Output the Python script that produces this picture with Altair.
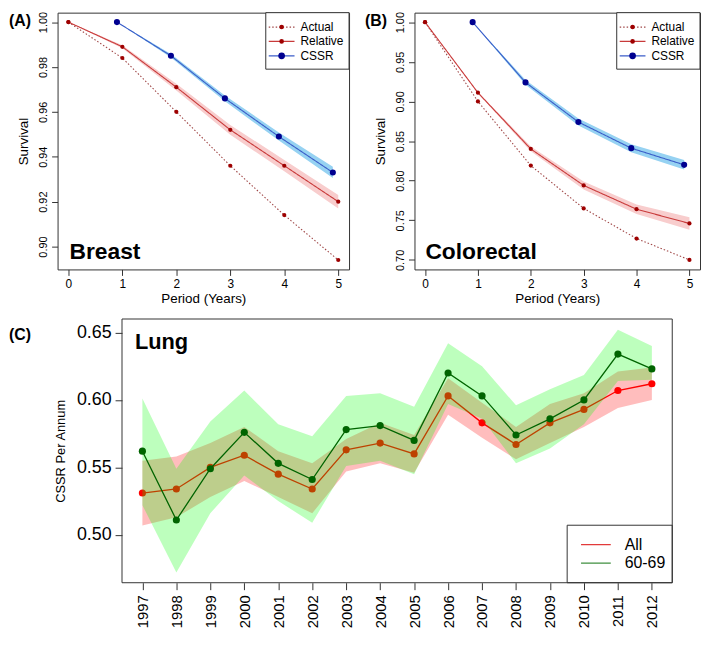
import altair as alt
import pandas as pd

FONT = "Liberation Sans"

# ---------------- data ----------------
periods = [0, 1, 2, 3, 4, 5]
cssr_periods = [0.9, 1.9, 2.9, 3.9, 4.9]
series_names = ["Actual", "Relative", "CSSR"]

breast_actual = [1.0, 0.984, 0.960, 0.936, 0.914, 0.894]
breast_relative = [1.0, 0.989, 0.971, 0.952, 0.936, 0.920]
breast_relative_lo = [1.0, 0.9883, 0.9695, 0.9498, 0.9335, 0.9170]
breast_relative_hi = [1.0, 0.9897, 0.9725, 0.9542, 0.9385, 0.9230]
breast_cssr = [1.0, 0.985, 0.966, 0.949, 0.933]
breast_cssr_lo = [1.0, 0.9842, 0.9647, 0.9472, 0.9305]
breast_cssr_hi = [1.0, 0.9858, 0.9673, 0.9508, 0.9355]
breast_yticks = [0.90, 0.92, 0.94, 0.96, 0.98, 1.00]

colo_actual = [1.0, 0.900, 0.819, 0.765, 0.727, 0.700]
colo_relative = [1.0, 0.911, 0.840, 0.794, 0.764, 0.746]
colo_relative_lo = [1.0, 0.910, 0.837, 0.789, 0.758, 0.738]
colo_relative_hi = [1.0, 0.912, 0.843, 0.799, 0.770, 0.754]
colo_cssr = [1.0, 0.924, 0.874, 0.841, 0.820]
colo_cssr_lo = [1.0, 0.921, 0.8695, 0.836, 0.814]
colo_cssr_hi = [1.0, 0.927, 0.8785, 0.846, 0.826]
colo_yticks = [0.70, 0.75, 0.80, 0.85, 0.90, 0.95, 1.00]

years = list(range(1997, 2013))
lung_groups = ["All", "60-69"]
lung_all = [0.531, 0.534, 0.550, 0.559, 0.545, 0.534, 0.563, 0.568,
            0.560, 0.603, 0.583, 0.567, 0.583, 0.593, 0.607, 0.612]
lung_all_lo = [0.507, 0.513, 0.528, 0.540, 0.528, 0.516, 0.547, 0.553,
               0.546, 0.589, 0.572, 0.556, 0.568, 0.580, 0.594, 0.600]
lung_all_hi = [0.555, 0.558, 0.568, 0.580, 0.562, 0.553, 0.571, 0.583,
               0.574, 0.616, 0.598, 0.580, 0.597, 0.605, 0.621, 0.624]
lung_6069 = [0.562, 0.511, 0.549, 0.576, 0.553, 0.541, 0.578, 0.581,
             0.570, 0.620, 0.603, 0.574, 0.586, 0.600, 0.634, 0.623]
lung_6069_lo = [0.522, 0.472, 0.516, 0.544, 0.525, 0.509, 0.551, 0.555,
                0.545, 0.597, 0.586, 0.553, 0.564, 0.582, 0.614, 0.615]
lung_6069_hi = [0.601, 0.549, 0.584, 0.607, 0.582, 0.573, 0.603, 0.605,
                0.595, 0.642, 0.625, 0.596, 0.608, 0.6185, 0.652, 0.640]
lung_yticks = [0.50, 0.55, 0.60, 0.65]

# ---------------- styles ----------------
LINE_COLORS = ["#A04848", "#C83A3A", "#3A5CC8"]
POINT_COLORS = ["#9E0000", "#9E0000", "#000090"]
DASHES = [[1.5, 2], [1, 0], [1, 0]]
POINT_SIZES = [18, 18, 38]
FRAME = "#333333"

TOP_H = 259
ONE = pd.DataFrame({"k": [0]})


def txt(label, x, y, size, weight="normal", align="left", baseline="middle"):
    return alt.Chart(pd.DataFrame({"t": [label]})).mark_text(
        align=align, baseline=baseline, fontSize=size, fontWeight=weight,
        font=FONT, color="black").encode(x=alt.value(x), y=alt.value(y), text="t:N")


def legend_box(x0, y0, w, h, rows, row_y0, row_dy, lx0, lx1, tx, fsize, show_dot=True):
    layers = [alt.Chart(ONE).mark_rect(fill="white", stroke=FRAME, strokeWidth=1).encode(
        x=alt.value(x0), x2=alt.value(x0 + w), y=alt.value(y0), y2=alt.value(y0 + h))]
    for i, (label, lcol, dash, pcol, psize) in enumerate(rows):
        yy = y0 + row_y0 + i * row_dy
        layers.append(alt.Chart(ONE).mark_rule(color=lcol, strokeDash=dash, strokeWidth=1.3).encode(
            x=alt.value(x0 + lx0), x2=alt.value(x0 + lx1), y=alt.value(yy)))
        if show_dot:
            layers.append(alt.Chart(ONE).mark_point(filled=True, opacity=1, color=pcol, size=psize).encode(
                x=alt.value(x0 + (lx0 + lx1) / 2), y=alt.value(yy)))
        layers.append(txt(label, x0 + tx, yy, fsize))
    return layers


def survival_panel(actual, rel, rel_lo, rel_hi, cssr, cssr_lo, cssr_hi,
                   ydomain, yticks, site, tag, width, tag_dx, site_dx):
    lines = pd.DataFrame({
        "series": ["Actual"] * 6 + ["Relative"] * 6 + ["CSSR"] * 5,
        "period": periods + periods + cssr_periods,
        "survival": actual + rel + cssr,
    })
    rel_band = pd.DataFrame({"period": periods, "lo": rel_lo, "hi": rel_hi})
    cssr_band = pd.DataFrame({"period": cssr_periods, "lo": cssr_lo, "hi": cssr_hi})

    xscale = alt.Scale(domain=[-0.2, 5.2], nice=False, zero=False)
    yscale = alt.Scale(domain=ydomain, nice=False, zero=False)
    xaxis = alt.Axis(values=periods, format="d", title="Period (Years)",
                     labelFontSize=12, titleFontSize=13.5, tickSize=6,
                     labelPadding=3, titlePadding=2, labelFlush=False,
                     labelOverlap=False)
    yaxis = alt.Axis(values=yticks, format=".2f", title="Survival",
                     labelFontSize=11, titleFontSize=13.5, tickSize=6,
                     labelPadding=3, titlePadding=7, labelAngle=270,
                     labelAlign="center", labelBaseline="bottom",
                     labelFlush=False, labelOverlap=False)
    X = lambda f: alt.X(f, type="quantitative", scale=xscale, axis=xaxis)
    Y = lambda f: alt.Y(f, type="quantitative", scale=yscale, axis=yaxis)

    band_r = alt.Chart(rel_band).mark_area(color="#F8CDCD").encode(
        x=X("period"), y=Y("lo"), y2="hi")
    band_c = alt.Chart(cssr_band).mark_area(color="#96D2F2").encode(
        x=X("period"), y=Y("lo"), y2="hi")
    line = alt.Chart(lines).mark_line(strokeWidth=1.1).encode(
        x=X("period"), y=Y("survival"),
        color=alt.Color("series:N", scale=alt.Scale(domain=series_names, range=LINE_COLORS), legend=None),
        strokeDash=alt.StrokeDash("series:N", scale=alt.Scale(domain=series_names, range=DASHES), legend=None),
    )
    pts = alt.Chart(lines).mark_point(filled=True, opacity=1).encode(
        x=X("period"), y=Y("survival"),
        fill=alt.Fill("series:N", scale=alt.Scale(domain=series_names, range=POINT_COLORS), legend=None),
        size=alt.Size("series:N", scale=alt.Scale(domain=series_names, range=POINT_SIZES, type="ordinal"), legend=None))

    rows = [(s, LINE_COLORS[i], DASHES[i], POINT_COLORS[i], POINT_SIZES[i] * 1.2)
            for i, s in enumerate(series_names)]
    leg = legend_box(width - 84, 0, 84, 57, rows, 14.5, 14.5, 3, 29, 35, 12)

    return alt.layer(band_r, band_c, line, pts, *leg,
                     txt(tag, tag_dx, 0, 16, "bold", baseline="top"),
                     txt(site, site_dx, TOP_H - 11, 23, "bold", baseline="alphabetic")).properties(
        width=width, height=TOP_H)


panel_a = survival_panel(breast_actual, breast_relative, breast_relative_lo, breast_relative_hi,
                         breast_cssr, breast_cssr_lo, breast_cssr_hi,
                         [0.8898, 1.0042], breast_yticks, "Breast", "(A)", 294, -49, 12)
panel_b = survival_panel(colo_actual, colo_relative, colo_relative_lo, colo_relative_hi,
                         colo_cssr, colo_cssr_lo, colo_cssr_hi,
                         [0.688, 1.012], colo_yticks, "Colorectal", "(B)", 288, -50, 11)

# ---------------- panel C ----------------
C_SHIFT = 65
C_W = 555
C_H = 266
C_TOTAL = C_SHIFT + C_W

lung = pd.DataFrame({
    "year": years * 2,
    "group": ["All"] * 16 + ["60-69"] * 16,
    "cssr": lung_all + lung_6069,
    "lo": lung_all_lo + lung_6069_lo,
    "hi": lung_all_hi + lung_6069_hi,
})
cx = alt.Scale(domain=[1996.4, 2012.6], nice=False, zero=False, range=[C_SHIFT, C_TOTAL])
cy = alt.Scale(domain=[0.4645, 0.6600], nice=False, zero=False)
cxaxis = alt.Axis(values=years, format="d", title=None, labelAngle=270,
                  labelAlign="right", labelBaseline="middle", labelFontSize=15,
                  tickSize=7, labelPadding=5, labelFlush=False, labelOverlap=False)
cyaxis = alt.Axis(values=lung_yticks, format=".2f", title="CSSR Per Annum",
                  labelFontSize=18, titleFontSize=13, tickSize=7, labelPadding=4,
                  titlePadding=9, labelFlush=False, labelOverlap=False, offset=-C_SHIFT)
CX = lambda f: alt.X(f, type="quantitative", scale=cx, axis=cxaxis)
CY = lambda f: alt.Y(f, type="quantitative", scale=cy, axis=cyaxis)
LUNG_COLORS = ["#FF0000", "#006400"]
ccolor = alt.Color("group:N", scale=alt.Scale(domain=lung_groups, range=LUNG_COLORS), legend=None)
cfill = alt.Fill("group:N", scale=alt.Scale(domain=lung_groups, range=LUNG_COLORS), legend=None)


def lung_layers(g, band_color):
    base = alt.Chart(lung).transform_filter(alt.datum.group == g)
    band = base.mark_area(color=band_color, opacity=0.26).encode(x=CX("year"), y=CY("lo"), y2="hi")
    ln = base.mark_line(strokeWidth=1.3).encode(x=CX("year"), y=CY("cssr"), color=ccolor)
    pt = base.mark_point(filled=True, opacity=1, size=52).encode(x=CX("year"), y=CY("cssr"), fill=cfill)
    return [band, ln, pt]


frame_c = alt.Chart(ONE).mark_rect(fillOpacity=0, stroke=FRAME, strokeWidth=1).encode(
    x=alt.value(C_SHIFT), x2=alt.value(C_TOTAL), y=alt.value(0), y2=alt.value(C_H))
c_rows = [("All", "#E23A3A", [1, 0], None, 0), ("60-69", "#3F8F3F", [1, 0], None, 0)]
c_leg = legend_box(C_TOTAL - 106, C_H - 58, 106, 58, c_rows, 19.5, 18.8, 14, 44, 58, 16, show_dot=False)

panel_c = alt.layer(*lung_layers("All", "#FF0000"), *lung_layers("60-69", "#00FF00"),
                    *c_leg, frame_c,
                    txt("(C)", C_SHIFT - 114, 8, 16, "bold", baseline="top"),
                    txt("Lung", C_SHIFT + 13, 30, 22, "bold", baseline="alphabetic")).properties(
    width=C_TOTAL, height=C_H, view=alt.ViewBackground(stroke="transparent"))

indep = dict(color="independent", strokeDash="independent", fill="independent", size="independent")

top = alt.hconcat(panel_a, panel_b, spacing=14).resolve_scale(**indep)

chart = alt.vconcat(top, panel_c, spacing=13).resolve_scale(**indep).properties(
    padding=0
).configure(font=FONT).configure_view(stroke=FRAME, strokeWidth=1).configure_axis(
    grid=False, domain=False, labelColor="black", titleColor="black",
    tickColor=FRAME, titleFontWeight="normal", labelFont=FONT, titleFont=FONT
)

chart.save("out.html", embed_options={"renderer": "svg", "actions": False})
